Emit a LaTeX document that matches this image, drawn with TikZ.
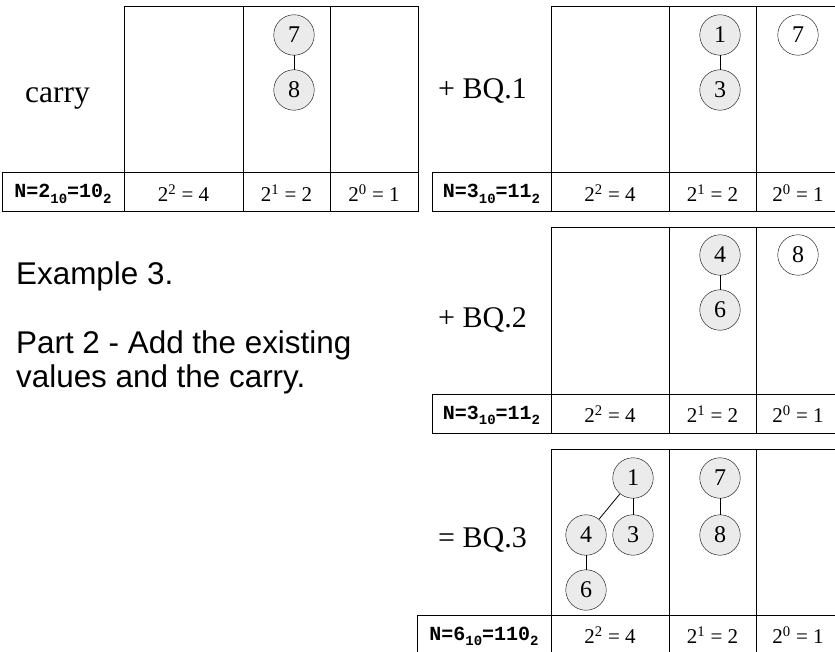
\documentclass[tikz,border=0pt]{standalone}
\usepackage{fontspec}
\setmainfont{Liberation Serif}
\setsansfont{Liberation Sans}
\setmonofont{Liberation Mono}
\definecolor{ballgray}{RGB}{235,235,235}
\newcommand\lowidx[1]{\raisebox{-0.28em}{\fontsize{14}{14}\selectfont #1}}

\begin{document}
\begin{tikzpicture}[x=1pt, y=-1pt,
        grid/.style={draw, line width=1pt},
        ball/.style={circle, draw, fill=ballgray, minimum size=40.5pt, inner sep=0pt, font=\fontsize{24}{26}\selectfont},
        wball/.style={ball, fill=white},
        link/.style={draw, line width=0.8pt},
        heap/.style={anchor=base west, inner sep=0pt, font=\fontsize{30}{32}\selectfont},
        note/.style={inner sep=0pt, align=left, font=\sffamily\fontsize{31.4}{34}\selectfont},
        key/.style={anchor=base, inner sep=0pt, font=\ttfamily\bfseries\fontsize{20}{22}\selectfont},
        pow/.style={anchor=base, inner sep=0pt, font=\fontsize{21}{23}\selectfont},
    ]
        \fill[white] (0,0) rectangle (835,652);
        \useasboundingbox (0,0) rectangle (835,652);

        % Tables: upper box, bottom row and column rules
        \foreach \t/\xl/\xa/\xb/\xc/\xd/\n [count=\i] in {
                7/2/124/243/330/418/{N=2\lowidx{10}=10\lowidx{2}},
                7/432/551/669/756/840/{N=3\lowidx{10}=11\lowidx{2}},
                228/432/551/669/756/840/{N=3\lowidx{10}=11\lowidx{2}},
                449/417/551/669/756/840/{N=6\lowidx{10}=110\lowidx{2}}} {
            \draw[grid] (\xa,\t) rectangle (\xd,\t+205);
            \draw[grid] (\xl,\t+166) rectangle (\xd,\t+205);
            \draw[grid] (\xb,\t) -- (\xb,\t+205);
            \draw[grid] (\xc,\t) -- (\xc,\t+205);
            \node[key] (key\i) at ({(\xl+\xa)/2},\t+191) {\n};
            \node[pow] (four\i) at ({(\xa+\xb)/2},\t+194.7) {2\textsuperscript{2} = 4};
            \node[pow] (two\i) at ({(\xb+\xc)/2},\t+194.7) {2\textsuperscript{1} = 2};
            \node[pow] (one\i) at ({(\xc+\xd)/2},\t+194.7) {2\textsuperscript{0} = 1};
        }

        % Left notes
        \node[note, anchor=base west] (ex) at (16,284.3) {Example 3.};
        \node[note, anchor=north west] (part) at (16,330.8) {Part 2 - Add the existing\\values and the carry.};

        % Carry
        \node[heap, font=\fontsize{31.5}{33}\selectfont] (carry) at (25,103) {carry};
        \node[ball] (c7) at (294,35) {7};
        \node[ball] (c8) at (294,90) {8};

        % + BQ.1
        \node[heap] (bq1) at (438,99) {+ BQ.1};
        \node[ball] (a1) at (720,35) {1};
        \node[ball] (a3) at (720,90) {3};
        \node[wball] (a7) at (798,35) {7};

        % + BQ.2
        \node[heap] (bq2) at (438,327) {+ BQ.2};
        \node[ball] (b4) at (720,255) {4};
        \node[ball] (b6) at (720,310) {6};
        \node[wball] (b8) at (798,255) {8};

        % = BQ.3
        \node[heap] (bq3) at (438,547.7) {= BQ.3};
        \node[ball] (s1) at (633,478) {1};
        \node[ball] (s4) at (586,535) {4};
        \node[ball] (s3) at (633,535) {3};
        \node[ball] (s6) at (586,590) {6};
        \node[ball] (s7) at (720,478) {7};
        \node[ball] (s8) at (720,535) {8};

        % Tree links
        \foreach \a/\b in {c7/c8, a1/a3, b4/b6, s1/s4, s1/s3, s4/s6, s7/s8}
            \draw[link] (\a) -- (\b);
    \end{tikzpicture}
\end{document}
